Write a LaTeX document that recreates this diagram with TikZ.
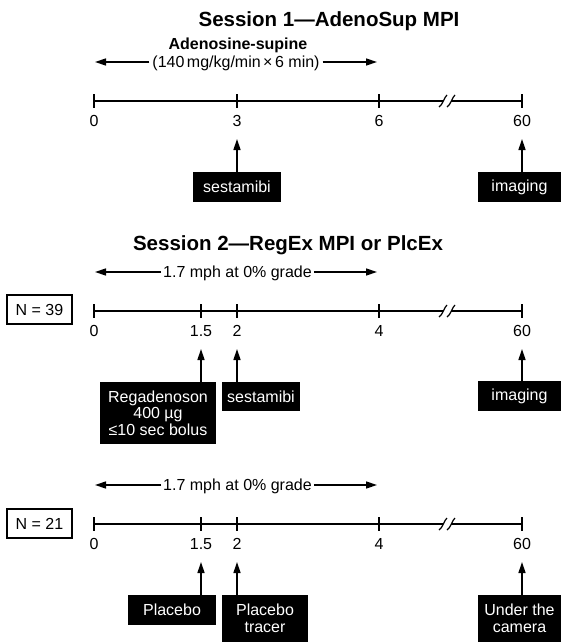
\documentclass[tikz,border=0pt]{standalone}
\usepackage{fontspec}
\setmainfont{Liberation Sans}
\usetikzlibrary{arrows.meta}
\begin{document}
\begin{tikzpicture}[x=1pt,y=-1pt,
  every node/.style={inner sep=0pt, outer sep=0pt},
  txt/.style={font=\fontsize{16}{16.5}\selectfont},
  ttl/.style={font=\fontsize{20.5}{22}\selectfont\bfseries},
  sub/.style={font=\fontsize{16}{17}\selectfont\bfseries},
  lbl/.style={txt, text height=11.5pt, text depth=0pt},
  blk/.style={txt, fill=black, text=white, align=center, anchor=north},
  nbox/.style={txt, draw, line width=1.2pt, minimum width=65pt, minimum height=29pt, text height=11.5pt, text depth=0pt},
  axis/.style={line width=1.4pt},
  brk/.style={line width=1.2pt},
  arr/.style={line width=1.4pt, -{Triangle[length=11pt,width=7pt]}},
]
\useasboundingbox (0,0) rectangle (561,642);

% ---------------- Session 1 ----------------
\node[ttl, anchor=base] (title1) at (329,27) {Session 1—AdenoSup MPI};
\node[sub, anchor=base] (adeno) at (238,50) {Adenosine-supine};
\node[lbl, inner xsep=3pt] (dose1) at (236,62) {(140\hspace{2.5pt}mg/kg/min\hspace{2.5pt}×\hspace{2.5pt}6 min)};
\coordinate (d1l) at (95,62);
\coordinate (d1r) at (377,62);
\draw[arr] (dose1.west) -- (d1l);
\draw[arr] (dose1.east) -- (d1r);

\coordinate (a0) at (94,101);
\coordinate (a3) at (237,101);
\coordinate (a6) at (379,101);
\coordinate (a60) at (522,101);
\coordinate (abl) at (443,101);
\coordinate (abr) at (451,101);
\draw[axis] (a0) -- (abl);
\draw[axis] (abr) -- (a60);
\foreach \c in {a0,a3,a6,a60} \draw[axis] (\c) ++(0,-7) -- ++(0,14);
\foreach \c in {abl,abr} \draw[brk] (\c) ++(-4,6) .. controls +(3,-1) and +(-2,1) .. ++(8,-12);
\node[lbl] (la0) at (94,121) {0};
\node[lbl] (la3) at (237,121) {3};
\node[lbl] (la6) at (379,121) {6};
\node[lbl] (la60) at (522,121) {60};

\node[blk, minimum width=88pt, minimum height=30pt] (ses1) at (237,172) {sestamibi};
\node[blk, minimum width=83pt, minimum height=30pt] (img1) at (519.5,172) {imaging};
\coordinate (p3) at (237,139);
\coordinate (p60a) at (522,139);
\draw[arr] (p3 |- ses1.north) -- (p3);
\draw[arr] (p60a |- img1.north) -- (p60a);

% ---------------- Session 2 ----------------
\node[ttl, anchor=base] (title2) at (288,250.5) {Session 2—RegEx MPI or PlcEx};
\node[lbl, inner xsep=2pt] (walk1) at (237.5,272) {1.7 mph at 0\% grade};
\coordinate (w1l) at (95,272);
\coordinate (w1r) at (377,272);
\draw[arr] (walk1.west) -- (w1l);
\draw[arr] (walk1.east) -- (w1r);

\node[nbox] (n39) at (39.5,309.5) {N = 39};

\coordinate (b0) at (94,311);
\coordinate (b15) at (201,311);
\coordinate (b2) at (237,311);
\coordinate (b4) at (379,311);
\coordinate (b60) at (522,311);
\coordinate (bbl) at (443,311);
\coordinate (bbr) at (451,311);
\draw[axis] (b0) -- (bbl);
\draw[axis] (bbr) -- (b60);
\foreach \c in {b0,b15,b2,b4,b60} \draw[axis] (\c) ++(0,-7) -- ++(0,14);
\foreach \c in {bbl,bbr} \draw[brk] (\c) ++(-4,6) .. controls +(3,-1) and +(-2,1) .. ++(8,-12);
\node[lbl] (lb0) at (94,331) {0};
\node[lbl] (lb15) at (201,331) {1.5};
\node[lbl] (lb2) at (237,331) {2};
\node[lbl] (lb4) at (379,331) {4};
\node[lbl] (lb60) at (522,331) {60};

\node[blk, minimum width=116pt, minimum height=62pt] (rega) at (158,382) {Regadenoson\\400 µg\\≤10 sec bolus};
\node[blk, minimum width=78pt, minimum height=29pt] (ses2) at (261,382) {sestamibi};
\node[blk, minimum width=83pt, minimum height=30pt] (img2) at (519.5,381) {imaging};
\coordinate (q15) at (201,349);
\coordinate (q2) at (237,349);
\coordinate (q60) at (522,349);
\draw[arr] (q15 |- rega.north) -- (q15);
\draw[arr] (q2 |- ses2.north) -- (q2);
\draw[arr] (q60 |- img2.north) -- (q60);

% ---------------- Session 2, placebo group ----------------
\node[lbl, inner xsep=2pt] (walk2) at (237.5,485) {1.7 mph at 0\% grade};
\coordinate (w2l) at (95,485);
\coordinate (w2r) at (377,485);
\draw[arr] (walk2.west) -- (w2l);
\draw[arr] (walk2.east) -- (w2r);

\node[nbox] (n21) at (39.5,523.5) {N = 21};

\coordinate (c0) at (94,524);
\coordinate (c15) at (201,524);
\coordinate (c2) at (237,524);
\coordinate (c4) at (379,524);
\coordinate (c60) at (522,524);
\coordinate (cbl) at (443,524);
\coordinate (cbr) at (451,524);
\draw[axis] (c0) -- (cbl);
\draw[axis] (cbr) -- (c60);
\foreach \c in {c0,c15,c2,c4,c60} \draw[axis] (\c) ++(0,-7) -- ++(0,14);
\foreach \c in {cbl,cbr} \draw[brk] (\c) ++(-4,6) .. controls +(3,-1) and +(-2,1) .. ++(8,-12);
\node[lbl] (lc0) at (94,544) {0};
\node[lbl] (lc15) at (201,544) {1.5};
\node[lbl] (lc2) at (237,544) {2};
\node[lbl] (lc4) at (379,544) {4};
\node[lbl] (lc60) at (522,544) {60};

\node[blk, minimum width=88pt, minimum height=30pt] (plc) at (172,595) {Placebo};
\node[blk, minimum width=86pt, minimum height=47pt] (plct) at (265,595) {Placebo\\tracer};
\node[blk, minimum width=83pt, minimum height=47pt] (cam) at (519.5,595) {Under the\\camera};
\coordinate (r15) at (201,562);
\coordinate (r2) at (237,562);
\coordinate (r60) at (522,562);
\draw[arr] (r15 |- plc.north) -- (r15);
\draw[arr] (r2 |- plct.north) -- (r2);
\draw[arr] (r60 |- cam.north) -- (r60);
\end{tikzpicture}
\end{document}
